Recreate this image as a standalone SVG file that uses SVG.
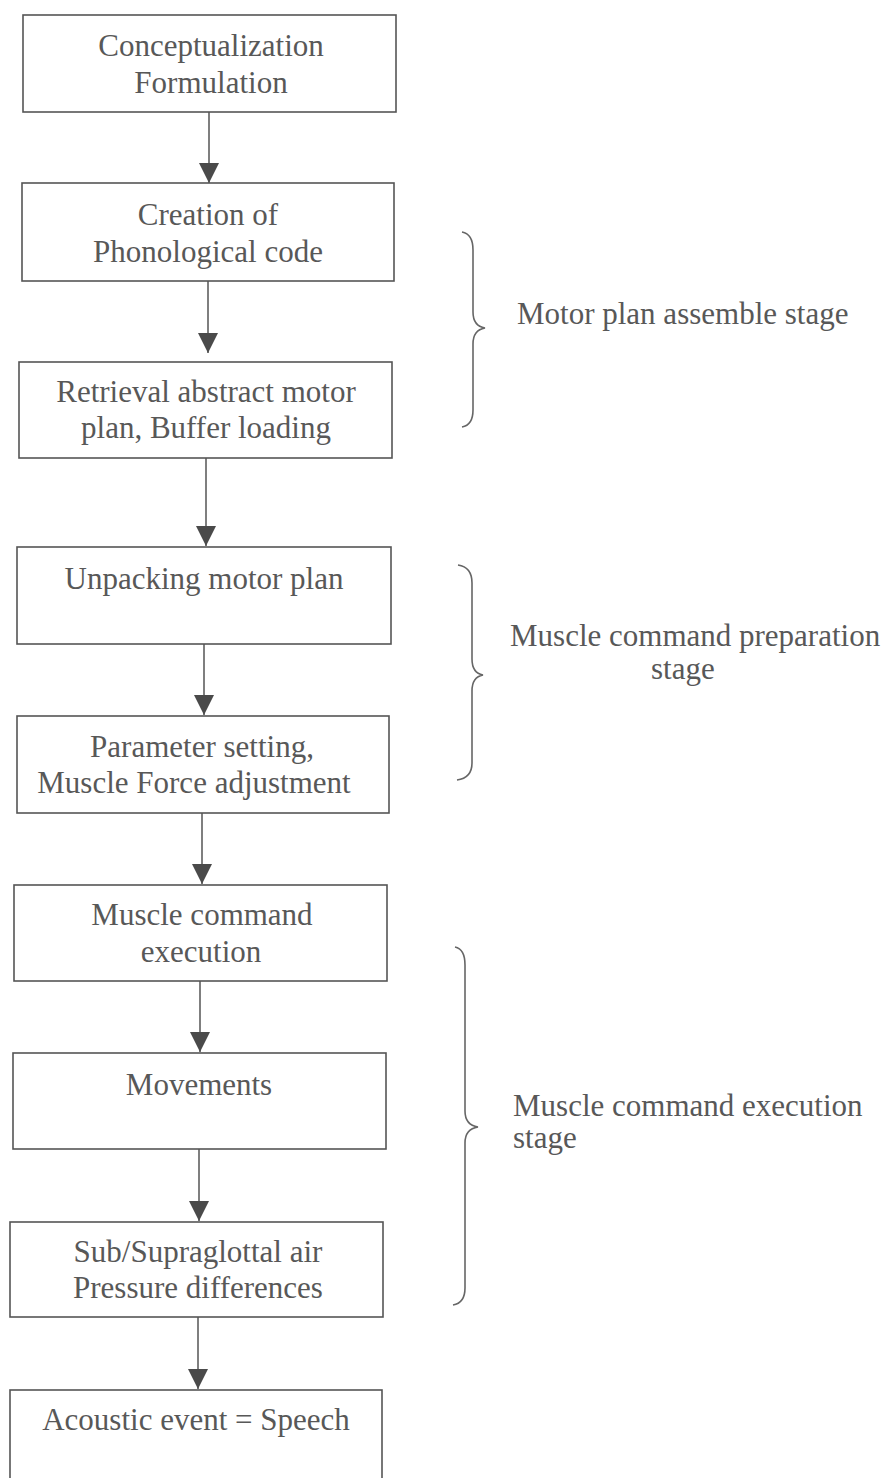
<svg xmlns="http://www.w3.org/2000/svg" width="884" height="1478" viewBox="0 0 884 1478">
<style>
.box{fill:#fff;stroke:#555;stroke-width:1.6}
.t{font-family:"Liberation Serif","Times New Roman",serif;font-size:31px;fill:#585858}
.c{text-anchor:middle}
.con{stroke:#555;stroke-width:1.5;fill:none}
.br{stroke:#666;stroke-width:1.6;fill:none}
</style>
<defs>
<marker id="ah" markerUnits="userSpaceOnUse" markerWidth="20" markerHeight="20" refX="20" refY="10" orient="auto">
<path d="M0,0 L20,10 L0,20 z" fill="#4a4a4a"/>
</marker>
</defs>
<rect width="884" height="1478" fill="#fff"/>
<g id="connectors">
<line class="con" x1="209" y1="112" x2="209" y2="183" marker-end="url(#ah)"/>
<line class="con" x1="208" y1="281" x2="208" y2="353" marker-end="url(#ah)"/>
<line class="con" x1="206" y1="450" x2="206" y2="546" marker-end="url(#ah)"/>
<line class="con" x1="204" y1="644" x2="204" y2="715" marker-end="url(#ah)"/>
<line class="con" x1="202" y1="813" x2="202" y2="884" marker-end="url(#ah)"/>
<line class="con" x1="200" y1="981" x2="200" y2="1052" marker-end="url(#ah)"/>
<line class="con" x1="199" y1="1149" x2="199" y2="1221" marker-end="url(#ah)"/>
<line class="con" x1="198" y1="1317" x2="198" y2="1389" marker-end="url(#ah)"/>
</g>
<g id="n1"><rect class="box" x="23" y="15" width="373" height="97"/>
<text class="t c" x="211" y="56">Conceptualization</text><text class="t c" x="211" y="93">Formulation</text></g>
<g id="n2"><rect class="box" x="22" y="183" width="372" height="98"/>
<text class="t c" x="208" y="225">Creation of</text><text class="t c" x="208" y="262">Phonological code</text></g>
<g id="n3"><rect class="box" x="19" y="362" width="373" height="96"/>
<text class="t c" x="206" y="402">Retrieval abstract motor</text><text class="t c" x="206" y="438">plan, Buffer loading</text></g>
<g id="n4"><rect class="box" x="17" y="547" width="374" height="97"/>
<text class="t c" x="204" y="589">Unpacking motor plan</text></g>
<g id="n5"><rect class="box" x="17" y="716" width="372" height="97"/>
<text class="t c" x="202" y="757">Parameter setting,</text><text class="t c" x="194" y="793">Muscle Force adjustment</text></g>
<g id="n6"><rect class="box" x="14" y="885" width="373" height="96"/>
<text class="t c" x="202" y="925">Muscle command</text><text class="t c" x="201" y="962">execution</text></g>
<g id="n7"><rect class="box" x="13" y="1053" width="373" height="96"/>
<text class="t c" x="199" y="1095">Movements</text></g>
<g id="n8"><rect class="box" x="10" y="1222" width="373" height="95"/>
<text class="t c" x="198" y="1262">Sub/Supraglottal air</text><text class="t c" x="198" y="1298">Pressure differences</text></g>
<g id="n9"><rect class="box" x="10" y="1390" width="372" height="100"/>
<text class="t c" x="196" y="1430">Acoustic event = Speech</text></g>
<g id="stage1">
<path class="br" d="M462,232 Q473,234 473,250 L473,312 Q473,326 485,328 Q473,330 473,344 L473,410 Q473,425 462,427"/>
<text class="t" x="517" y="324">Motor plan assemble stage</text>
</g>
<g id="stage2">
<path class="br" d="M458,565 Q472,567 472,583 L472,659 Q472,673 483,675 Q472,677 472,691 L472,763 Q472,778 457,780"/>
<text class="t" x="510" y="646">Muscle command preparation</text>
<text class="t" x="651" y="679">stage</text>
</g>
<g id="stage3">
<path class="br" d="M455,947 Q465,949 465,965 L465,1111 Q465,1125 478,1127 Q465,1129 465,1143 L465,1288 Q465,1303 453,1305"/>
<text class="t" x="513" y="1116">Muscle command execution</text>
<text class="t" x="513" y="1148">stage</text>
</g>
</svg>
